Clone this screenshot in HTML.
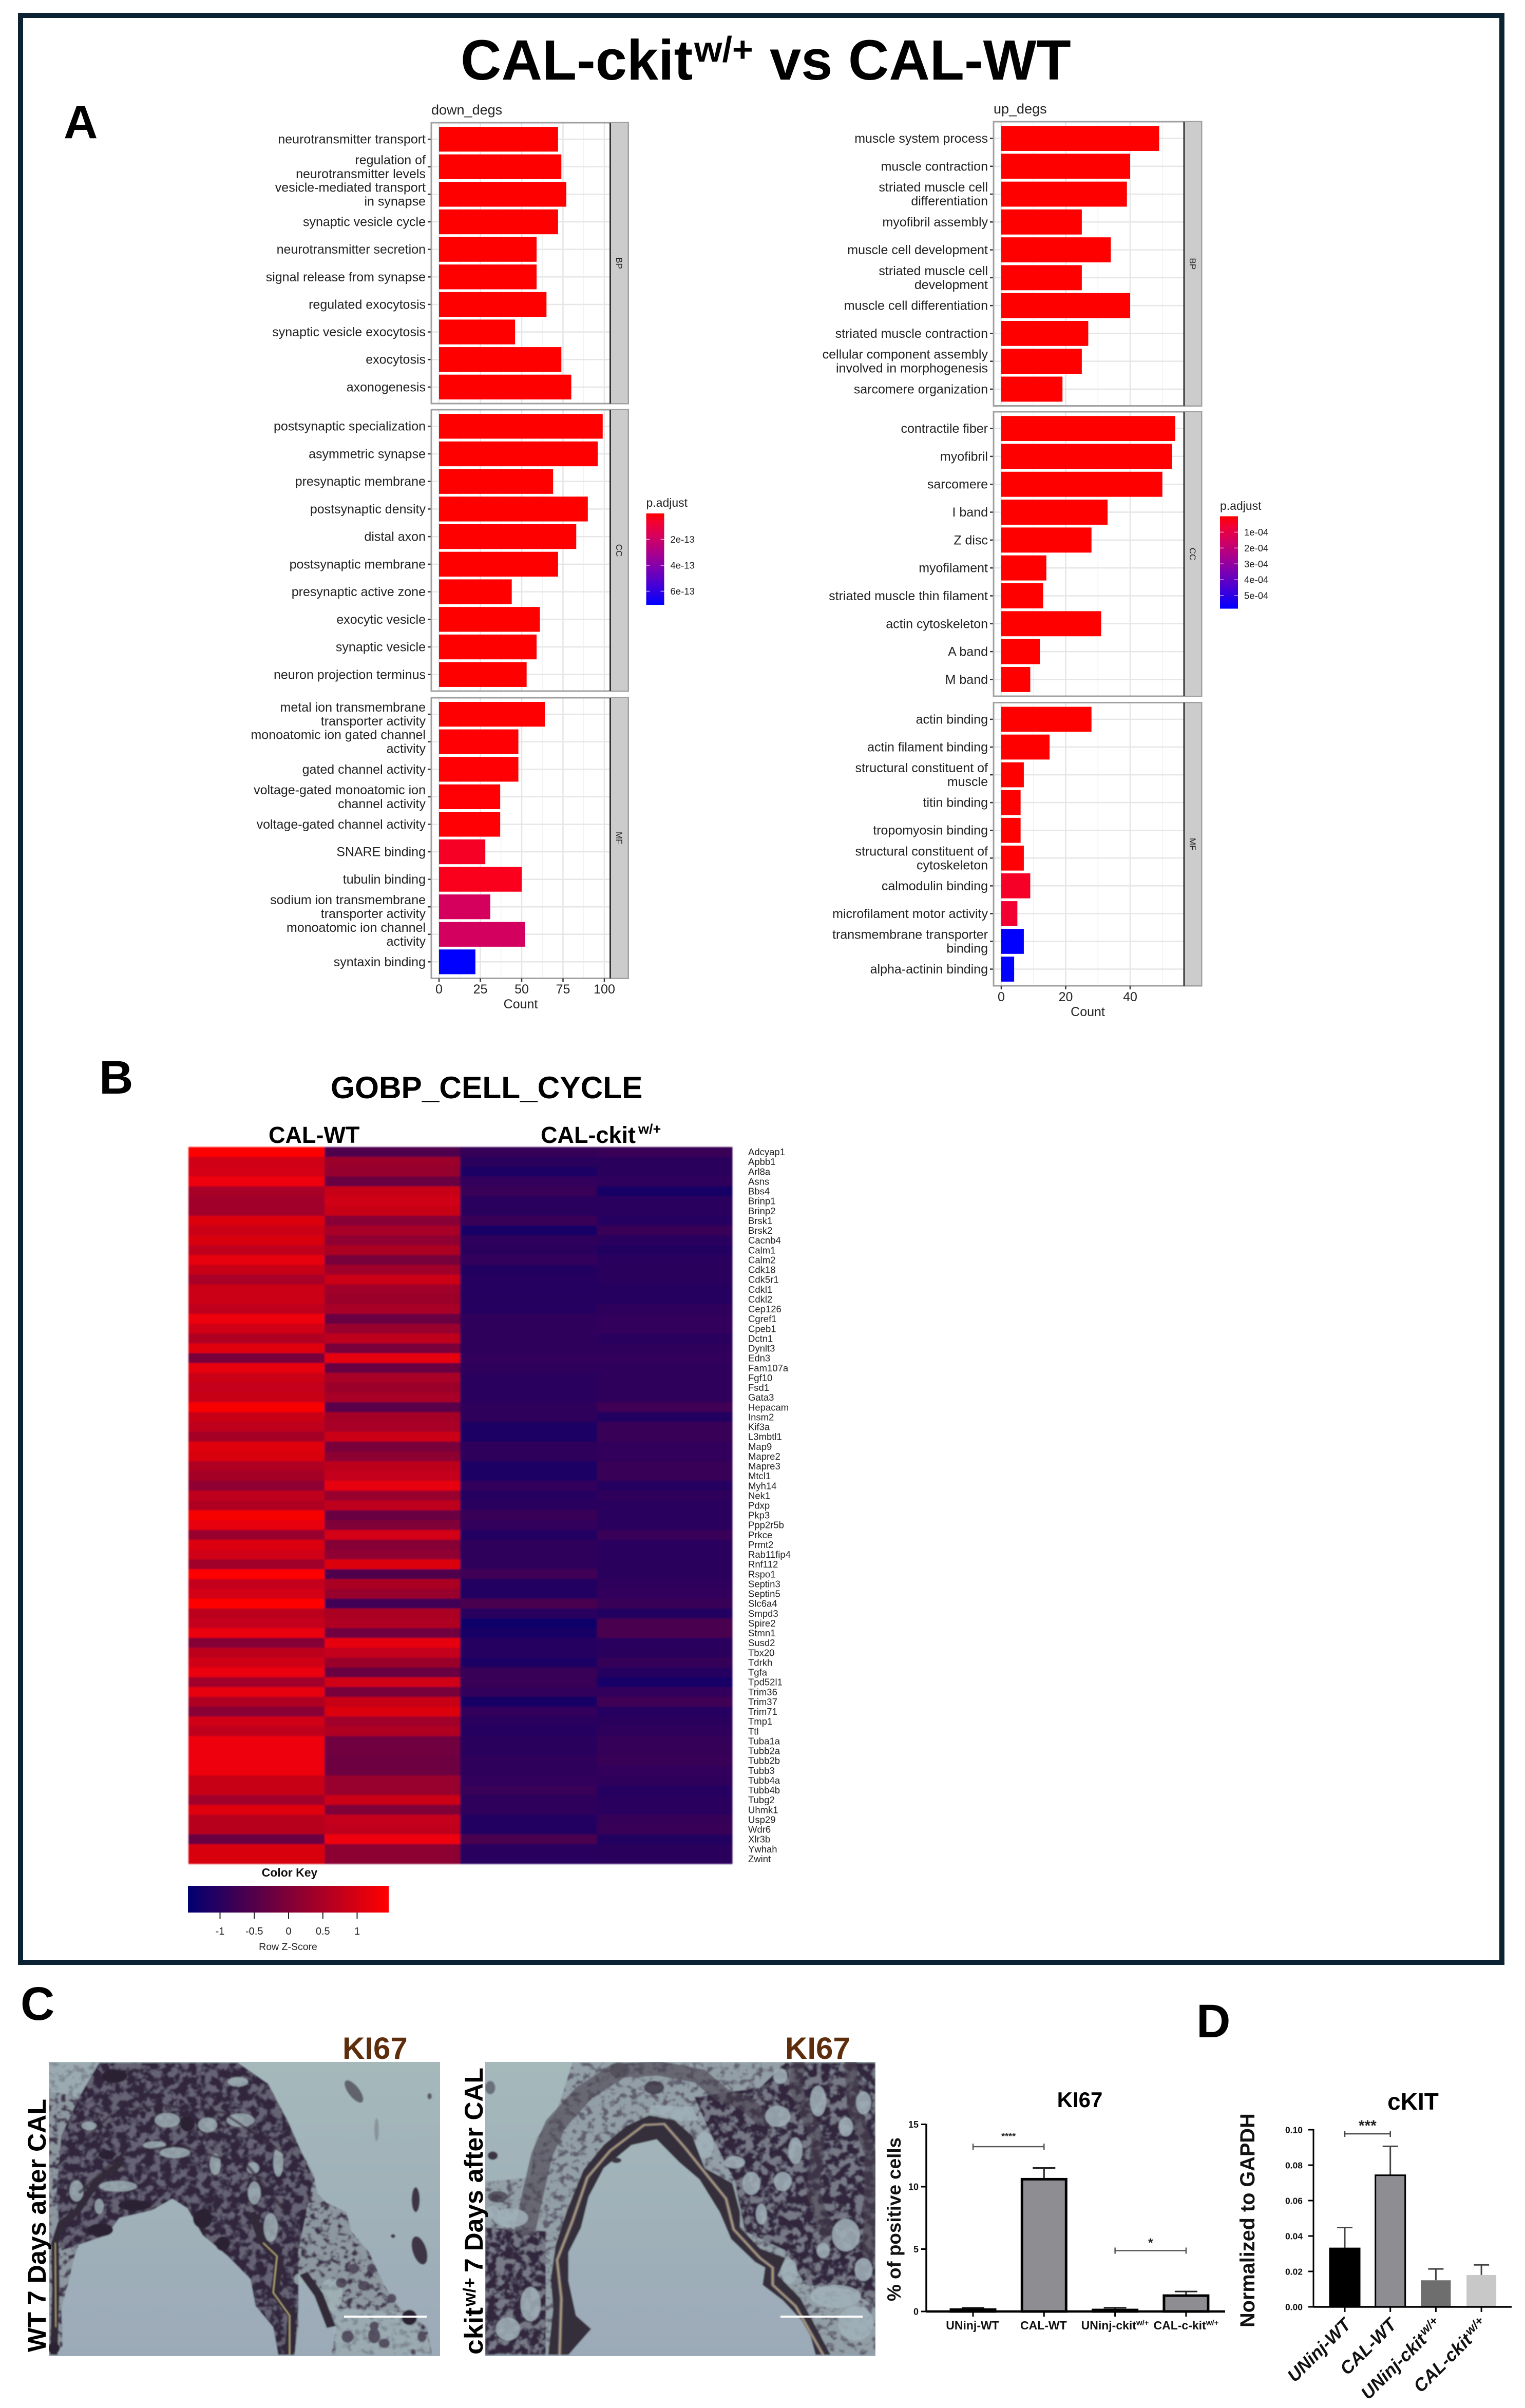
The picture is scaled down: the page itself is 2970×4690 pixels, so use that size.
<!DOCTYPE html>
<html lang="en">
<head>
<meta charset="utf-8">
<title>CAL-ckit vs CAL-WT figure</title>
<style>
html,body{margin:0;padding:0;background:#fff}
svg{display:block}
text{font-family:"Liberation Sans",sans-serif}
.b{font-weight:700}
</style>
</head>
<body>
<svg id="figure" xmlns="http://www.w3.org/2000/svg" width="2970" height="4690" viewBox="0 0 2970 4690">
<defs>
<linearGradient id="slide-bg" x1="0" y1="0" x2="0" y2="1"><stop offset="0" stop-color="#a5b9bb"/><stop offset="0.5" stop-color="#a0b1b9"/><stop offset="1" stop-color="#9caab8"/></linearGradient>
<filter id="mottle" x="0" y="0" width="100%" height="100%" color-interpolation-filters="sRGB">
<feTurbulence type="fractalNoise" baseFrequency="0.06 0.065" numOctaves="4" seed="4"/>
<feColorMatrix type="matrix" values="0 0 0 0 0.19  0 0 0 0 0.15  0 0 0 0 0.24  5.5 0 0 0 -2.1"/>
</filter>
<filter id="sparse" x="0" y="0" width="100%" height="100%" color-interpolation-filters="sRGB">
<feTurbulence type="fractalNoise" baseFrequency="0.07 0.08" numOctaves="4" seed="11"/>
<feColorMatrix type="matrix" values="0 0 0 0 0.24  0 0 0 0 0.20  0 0 0 0 0.29  5 0 0 0 -2.5"/>
</filter>
<filter id="soft" x="-2%" y="-2%" width="104%" height="104%"><feGaussianBlur stdDeviation="1.4"/></filter>
<filter id="cell-soft" x="-1%" y="-1%" width="102%" height="102%"><feGaussianBlur stdDeviation="1.2"/></filter>
<clipPath id="slide-one"><rect x="95" y="4016" width="762" height="573"/></clipPath>
<clipPath id="slide-two"><rect x="945" y="4016" width="760" height="573"/></clipPath>
<clipPath id="tissue-one"><path transform="translate(90,4010) scale(0.4912,0.3731)" d="M10 20L760 20L880 130L960 330L1010 480L1060 600L1075 700L1110 750L1190 800L1210 900L1280 1010L1340 1180L1400 1300L1510 1400L1530 1545L1130 1545L1150 1400L1090 1280L1020 1130L990 1180L1000 1400L985 1545L920 1545L900 1400L830 1290L810 1150L720 1030L620 920L560 780L500 730L420 790L290 830L240 920L130 970L110 1040L90 1160L60 1300L65 1500L15 1545Z"/></clipPath>
<clipPath id="dense-one"><path transform="translate(90,4010) scale(0.4912,0.3731)" d="M210 20L760 20L880 130L960 330L1010 480L1060 620L1000 1000L1000 1300L985 1545L920 1545L900 1400L830 1290L810 1150L720 1030L620 920L560 780L500 730L420 790L290 830L240 920L130 970L60 1000L40 700L60 400L130 200Z"/></clipPath>
<clipPath id="tissue-two"><path clip-rule="evenodd" transform="translate(940,4010) scale(0.4912,0.3731)" d="M10 20L1560 20L1560 1545L10 1545Z M10 20L355 20L320 170L290 280L210 420L190 620L10 640Z M340 1545L430 1410L370 1340L340 1160L340 1010L390 880L420 720L480 570L590 450L690 420L780 540L860 630L940 800L985 940L1080 1060L1120 1090L1110 1180L1190 1260L1290 1400L1320 1545Z"/></clipPath>
<clipPath id="dense-two"><path transform="translate(940,4010) scale(0.4912,0.3731)" d="M840 200L1100 150L1200 20L1560 20L1560 1300L1450 1200L1280 1180L1200 1000L1040 900L1000 640L900 380Z M10 880L250 900L250 1545L10 1545Z"/></clipPath>
</defs>
<rect x="0" y="0" width="2970" height="4690" fill="#fff"/>
<rect x="40" y="30" width="2885" height="3792" fill="#fff" stroke="#0b2233" stroke-width="10"/>

<g>
<text class="b" x="897" y="155" font-size="110" fill="#000">CAL-ckit</text>
<text class="b" x="1352" y="120" font-size="70" fill="#000">w/+</text>
<text class="b" x="1499" y="155" font-size="110" fill="#000">vs CAL-WT</text>
</g>
<text class="b" x="124" y="269" font-size="92">A</text>
<text class="b" x="193" y="2130" font-size="92">B</text>
<text class="b" x="40" y="3934" font-size="92">C</text>
<text class="b" x="2330" y="3968" font-size="92">D</text>

<text x="840" y="223" font-size="27" fill="#222">down_degs</text>
<text x="1935" y="221" font-size="27" fill="#222">up_degs</text>

<text class="b" x="644" y="2139" font-size="60.4" fill="#000">GOBP_CELL_CYCLE</text>
<text class="b" x="523" y="2226" font-size="45" fill="#000">CAL-WT</text>
<g>
<text class="b" x="1053" y="2226" font-size="45" fill="#000">CAL-ckit</text>
<text class="b" x="1243" y="2208" font-size="27" fill="#000">w/+</text>
</g>

<g>
<g clip-path="url(#slide-one)">
<g filter="url(#soft)">
<rect x="85" y="4006" width="782" height="593" fill="url(#slide-bg)"/>
<g clip-path="url(#tissue-one)">
<rect x="95" y="4016" width="762" height="573" fill="#8d979f"/>
<rect x="95" y="4016" width="762" height="573" filter="url(#sparse)"/>
</g>
<g clip-path="url(#dense-one)">
<rect x="95" y="4016" width="762" height="573" fill="#666474"/>
<rect x="95" y="4016" width="762" height="573" filter="url(#mottle)"/>
</g>
<g transform="translate(90,4010) scale(0.4912,0.3731)">
<path d="M10 20L210 20L130 200L10 170Z M1130 1300L1400 1320L1500 1420L1530 1545L1150 1545Z" fill="#a2b4ba" opacity="0.65"/>
<g fill="#a3b5ba" opacity="0.8">
<ellipse cx="480" cy="320" rx="50" ry="38"/><ellipse cx="640" cy="345" rx="38" ry="38"/><ellipse cx="510" cy="490" rx="60" ry="28"/><ellipse cx="770" cy="320" rx="55" ry="35"/><ellipse cx="670" cy="550" rx="22" ry="55"/><ellipse cx="285" cy="665" rx="75" ry="28"/><ellipse cx="825" cy="700" rx="25" ry="60"/><ellipse cx="890" cy="880" rx="28" ry="75"/><ellipse cx="430" cy="450" rx="45" ry="20"/><ellipse cx="760" cy="120" rx="40" ry="25"/><ellipse cx="170" cy="350" rx="30" ry="22"/><ellipse cx="120" cy="690" rx="28" ry="55"/><ellipse cx="920" cy="540" rx="20" ry="75"/><ellipse cx="1130" cy="1230" rx="45" ry="85"/><ellipse cx="1000" cy="1150" rx="18" ry="28"/><ellipse cx="820" cy="570" rx="25" ry="30"/><ellipse cx="210" cy="770" rx="18" ry="40"/>
</g>
<g fill="none" stroke="#332a38">
<path d="M960 1545L975 1340L905 1220L925 1050L860 960L815 800" stroke-width="34"/>
<path d="M30 1545L38 1200L35 960L60 860L120 800L200 640L300 540" stroke-width="30"/>
<path d="M1020 1120L1080 1230L1130 1400" stroke-width="36"/>
<path d="M40 560L250 300L450 240L700 280L950 500" stroke-width="12" opacity="0.6"/>
<path d="M130 700L300 500L520 450L800 560L950 800" stroke-width="14" opacity="0.6"/>
</g>
<g fill="none" stroke="#b8aa7a">
<path d="M965 1545L965 1340L900 1220L915 1030L860 960" stroke-width="5"/>
<path d="M38 1400L36 960" stroke-width="4"/>
</g>
<g fill="#2c2432">
<ellipse cx="215" cy="893" rx="50" ry="34"/><ellipse cx="350" cy="765" rx="65" ry="28"/><ellipse cx="620" cy="835" rx="38" ry="50"/><ellipse cx="700" cy="965" rx="28" ry="38"/><ellipse cx="270" cy="90" rx="50" ry="35"/><ellipse cx="560" cy="340" rx="28" ry="40"/><ellipse cx="240" cy="500" rx="32" ry="24"/><ellipse cx="30" cy="1510" rx="24" ry="30"/>
<ellipse cx="1440" cy="1350" rx="30" ry="40"/>
</g>
<g fill="#4a4255" opacity="0.85">
<ellipse cx="1170" cy="1170" rx="22" ry="26"/><ellipse cx="1220" cy="1095" rx="20" ry="26"/><ellipse cx="1290" cy="1095" rx="18" ry="26"/><ellipse cx="1260" cy="1185" rx="24" ry="26"/><ellipse cx="1300" cy="1445" rx="24" ry="40"/><ellipse cx="1340" cy="1485" rx="22" ry="24"/><ellipse cx="1490" cy="1450" rx="18" ry="28"/><ellipse cx="1195" cy="1450" rx="24" ry="32"/><ellipse cx="1300" cy="1395" rx="18" ry="24"/><ellipse cx="1370" cy="1250" rx="18" ry="24"/><ellipse cx="1455" cy="1530" rx="10" ry="15"/>
</g>
<g fill="#3d3545">
<ellipse cx="1220" cy="170" rx="24" ry="65" transform="rotate(-28 1220 170)" opacity="0.65"/>
<ellipse cx="1520" cy="195" rx="9" ry="16" opacity="0.7"/>
<ellipse cx="1465" cy="735" rx="16" ry="65"/>
<ellipse cx="1480" cy="1000" rx="28" ry="75" transform="rotate(-12 1480 1000)"/>
<ellipse cx="1375" cy="925" rx="9" ry="10"/>
<ellipse cx="1310" cy="370" rx="9" ry="60" opacity="0.25"/>
</g>
</g>
</g>
</g>
<rect x="670" y="4510" width="161" height="4" fill="#fff"/>
</g>

<g>
<g clip-path="url(#slide-two)">
<g filter="url(#soft)">
<rect x="935" y="4006" width="780" height="593" fill="url(#slide-bg)"/>
<g clip-path="url(#tissue-two)">
<rect x="945" y="4016" width="760" height="573" fill="#939fa6"/>
<rect x="945" y="4016" width="760" height="573" filter="url(#sparse)" opacity="0.6"/>
</g>
<g clip-path="url(#dense-two)">
<rect x="945" y="4016" width="760" height="573" fill="#777a86"/>
<rect x="945" y="4016" width="760" height="573" filter="url(#mottle)"/>
</g>
<g transform="translate(940,4010) scale(0.4912,0.3731)">
<g fill="none" stroke="#4a4250" stroke-linecap="round">
<path d="M540 60L400 180L290 340L235 500L200 700L170 880" stroke-width="85" opacity="0.6"/>
<path d="M540 60L700 50L860 90L950 190L1040 230L1110 310" stroke-width="75" opacity="0.6"/>
<path d="M1250 20L1240 150L1330 420L1310 700L1360 900" stroke-width="55" opacity="0.5"/>
<path d="M1460 20L1470 260L1540 500L1530 1050" stroke-width="50" opacity="0.6"/>
</g>
<g fill="#a2b2ba" opacity="0.85">
<path d="M670 240L830 250L855 320L780 325L700 290L660 285Z"/>
<ellipse cx="880" cy="450" rx="36" ry="70"/><ellipse cx="1000" cy="540" rx="40" ry="32"/><ellipse cx="1065" cy="650" rx="35" ry="60"/><ellipse cx="1240" cy="480" rx="28" ry="70"/><ellipse cx="1170" cy="300" rx="50" ry="55"/><ellipse cx="1180" cy="90" rx="28" ry="40"/><ellipse cx="1440" cy="920" rx="55" ry="85"/><ellipse cx="1190" cy="640" rx="35" ry="50"/><ellipse cx="1400" cy="1240" rx="100" ry="60"/><ellipse cx="1510" cy="1100" rx="35" ry="60"/><ellipse cx="1215" cy="1110" rx="32" ry="65"/><ellipse cx="1105" cy="810" rx="22" ry="55"/><ellipse cx="1330" cy="220" rx="32" ry="80"/><ellipse cx="1510" cy="230" rx="30" ry="60"/><ellipse cx="1440" cy="355" rx="28" ry="50"/><ellipse cx="1480" cy="1380" rx="70" ry="90"/><ellipse cx="1350" cy="1000" rx="26" ry="40"/><ellipse cx="100" cy="1410" rx="48" ry="60"/><ellipse cx="110" cy="830" rx="70" ry="50"/><ellipse cx="190" cy="1280" rx="40" ry="90"/><ellipse cx="40" cy="800" rx="30" ry="30"/>
</g>
<path fill-rule="evenodd" d="M260 1545L280 1300L270 1150L290 970L335 790L400 580L480 450L570 350L660 295L760 320L830 400L880 570L990 650L1020 800L1020 880L1100 990L1200 1040L1170 1130L1260 1250L1380 1545Z M340 1545L430 1410L370 1340L340 1160L340 1010L390 880L420 720L480 570L590 450L690 420L780 540L860 630L940 800L985 940L1080 1060L1120 1090L1110 1180L1190 1260L1290 1400L1320 1545Z" fill="#352d3a"/>
<path d="M305 1545L312 1250L295 1050L355 850L415 620L505 480L640 345L720 340L800 460L885 600L965 730L995 890L1100 1040L1150 1090L1150 1180L1240 1290L1350 1545" fill="none" stroke="#6b6070" stroke-width="14"/>
<path d="M305 1545L312 1250L295 1050L355 850L415 620L505 480L640 345L720 340L800 460L885 600L965 730L995 890L1100 1040L1150 1090L1150 1180L1240 1290L1350 1545" fill="none" stroke="#b5a878" stroke-width="5"/>
<g fill="#3d3545">
<ellipse cx="40" cy="505" rx="20" ry="22"/><ellipse cx="30" cy="150" rx="20" ry="35" opacity="0.55"/><ellipse cx="60" cy="720" rx="40" ry="30" opacity="0.7"/><ellipse cx="680" cy="150" rx="40" ry="35" opacity="0.8"/><ellipse cx="530" cy="530" rx="20" ry="14"/>
</g>
</g>
</g>
</g>
<rect x="1520" y="4510" width="160" height="4" fill="#fff"/>
</g>

<text class="b" x="667" y="4010" font-size="60" fill="#5e2e0c">KI67</text>
<text class="b" x="1529" y="4010" font-size="60" fill="#5e2e0c">KI67</text>
<text class="b" transform="translate(89,4581) rotate(-90)" font-size="50" textLength="493" lengthAdjust="spacingAndGlyphs">WT 7 Days after CAL</text>
<g transform="translate(940,4586) rotate(-90)">
<text class="b" x="0" y="0" font-size="50" textLength="92" lengthAdjust="spacingAndGlyphs">ckit</text>
<text class="b" x="94" y="-14" font-size="34">w/+</text>
<text class="b" x="160" y="0" font-size="50" textLength="399" lengthAdjust="spacingAndGlyphs">7 Days after CAL</text>
</g>

<g id="go-charts"></g>
<g id="heatmap"></g>
<g id="ki67-chart"></g>
<g id="ckit-chart"></g>
</svg>

<script>
const downBpTerms = ["neurotransmitter transport","regulation of\nneurotransmitter levels","vesicle-mediated transport\nin synapse","synaptic vesicle cycle","neurotransmitter secretion","signal release from synapse","regulated exocytosis","synaptic vesicle exocytosis","exocytosis","axonogenesis"];
const downBpCounts = [72,74,77,72,59,59,65,46,74,80];
const downBpP = [0,0,0,0,0,0,0,0,0,0];
const downCcTerms = ["postsynaptic specialization","asymmetric synapse","presynaptic membrane","postsynaptic density","distal axon","postsynaptic membrane","presynaptic active zone","exocytic vesicle","synaptic vesicle","neuron projection terminus"];
const downCcCounts = [99,96,69,90,83,72,44,61,59,53];
const downCcP = [0,0,0,0,0,0,0,0,0,0];
const downMfTerms = ["metal ion transmembrane\ntransporter activity","monoatomic ion gated channel\nactivity","gated channel activity","voltage-gated monoatomic ion\nchannel activity","voltage-gated channel activity","SNARE binding","tubulin binding","sodium ion transmembrane\ntransporter activity","monoatomic ion channel\nactivity","syntaxin binding"];
const downMfCounts = [64,48,48,37,37,28,50,31,52,22];
const downMfP = [0.01,0.02,0.02,0.02,0.02,0.5,0.35,1.75,1.8,7];
const downTicks = [0,25,50,75,100];
const downMinorTicks = [12.5,37.5,62.5,87.5];
const downLegendTicks = [2,4,6];
const upBpTerms = ["muscle system process","muscle contraction","striated muscle cell\ndifferentiation","myofibril assembly","muscle cell development","striated muscle cell\ndevelopment","muscle cell differentiation","striated muscle contraction","cellular component assembly\ninvolved in morphogenesis","sarcomere organization"];
const upBpCounts = [49,40,39,25,34,25,40,27,25,19];
const upBpP = [0,0,0,0,0,0,0,0,0,0];
const upCcTerms = ["contractile fiber","myofibril","sarcomere","I band","Z disc","myofilament","striated muscle thin filament","actin cytoskeleton","A band","M band"];
const upCcCounts = [54,53,50,33,28,14,13,31,12,9];
const upCcP = [0,0,0,0,0,0,0,0,0,0];
const upMfTerms = ["actin binding","actin filament binding","structural constituent of\nmuscle","titin binding","tropomyosin binding","structural constituent of\ncytoskeleton","calmodulin binding","microfilament motor activity","transmembrane transporter\nbinding","alpha-actinin binding"];
const upMfCounts = [28,15,7,6,6,7,9,5,7,4];
const upMfP = [0,0,0,0,0,0.02,0.45,0.6,5.8,5.8];
const upTicks = [0,20,40];
const upMinorTicks = [10,30,50];
const upLegendTicks = [1,2,3,4,5];

const geneNames = ["Adcyap1","Apbb1","Arl8a","Asns","Bbs4","Brinp1","Brinp2","Brsk1","Brsk2","Cacnb4","Calm1","Calm2","Cdk18","Cdk5r1","Cdkl1","Cdkl2","Cep126","Cgref1","Cpeb1","Dctn1","Dynlt3","Edn3","Fam107a","Fgf10","Fsd1","Gata3","Hepacam","Insm2","Kif3a","L3mbtl1","Map9","Mapre2","Mapre3","Mtcl1","Myh14","Nek1","Pdxp","Pkp3","Ppp2r5b","Prkce","Prmt2","Rab11fip4","Rnf112","Rspo1","Septin3","Septin5","Slc6a4","Smpd3","Spire2","Stmn1","Susd2","Tbx20","Tdrkh","Tgfa","Tpd52l1","Trim36","Trim37","Trim71","Tmp1","Ttl","Tuba1a","Tubb2a","Tubb2b","Tubb3","Tubb4a","Tubb4b","Tubg2","Uhmk1","Usp29","Wdr6","Xlr3b","Ywhah","Zwint"];
const zWtA = [1.45,.92,.96,1.28,.46,.37,.37,1.06,.87,1.01,.73,1.19,.82,.46,.87,.87,.73,1.28,.92,.55,1.1,-.09,1.19,.87,.78,.82,1.39,.82,.73,.42,1.1,1.01,.55,.42,.19,.73,.55,1.37,1.19,.28,1.05,.92,.37,1.45,.78,.96,1.45,.69,.78,1.23,.05,.69,.92,1.23,.37,1.19,.55,.1,.92,.73,1.28,1.28,1.28,1.28,.82,.82,.37,1.1,.64,.64,-.27,1.01,1.01];
const zWtB = [-.54,.3,.25,-.27,.82,.92,.82,.1,.46,.19,.51,-.09,.37,.87,.37,.32,.46,-.27,.28,.73,-.09,1.19,-.27,.46,.32,.46,-.45,.42,.46,.87,-.09,.14,.69,.78,1.19,.28,.73,-.27,0,.96,.05,.19,1.06,-.54,.51,.28,-.72,.51,.55,-.18,1.19,.78,.32,-.27,.92,-.09,.82,1.06,.37,.55,-.18,-.18,-.22,-.22,.28,.28,.87,0,.78,.73,1.28,.14,.14];
const zCkA = [-.86,-.97,-1.11,-.9,-.81,-.99,-.99,-.81,-1.18,-.95,-.97,-.9,-1.09,-1.04,-1.04,-1.02,-1.04,-.95,-.95,-.95,-.95,-.9,-.95,-.99,-.99,-.99,-.95,-.95,-1.11,-1.11,-.95,-.95,-1.11,-1.11,-.9,-1.04,-.99,-.81,-.9,-1.09,-.95,-.95,-.95,-.72,-1.09,-1.09,-.63,-.99,-1.27,-1.18,-1.04,-1.04,-1.11,-.81,-.81,-.9,-1.18,-.9,-.99,-1.04,-.97,-.97,-.95,-.93,-.9,-.81,-.95,-.95,-1.09,-1.09,-.63,-.99,-.99];
const zCkB = [-.81,-.97,-.97,-.95,-1.18,-.99,-.99,-1.04,-.81,-.99,-1.06,-.99,-.97,-.99,-1.02,-1.02,-.93,-.9,-.9,-.99,-.95,-.9,-.95,-.95,-.95,-.95,-.72,-1.06,-.81,-.81,-.9,-.9,-.81,-.81,-1.04,-.93,-.99,-.99,-.99,-.81,-.99,-.99,-.97,-.97,-.95,-.9,-.81,-1.09,-.63,-.63,-.99,-.97,-.86,-1.04,-1.22,-.9,-.72,-1.04,-.97,-.95,-.86,-.86,-.81,-.9,-.95,-1.04,-.99,-.99,-.86,-.81,-1.06,-.97,-.97];
const keyTicks = [-1,-0.5,0,0.5,1];
const keyLabels = ["-1","-0.5","0","0.5","1"];

const ki67Groups = ["UNinj-WT","CAL-WT","UNinj-ckit","CAL-c-kit"];
const ki67Sups = ["","","w/+","w/+"];
const ki67Means = [0.15,10.6,0.12,1.27];
const ki67Upper = [0.3,11.5,0.3,1.6];
const ki67Ticks = [0,5,10,15];
const ckitGroups = ["UNinj-WT","CAL-WT","UNinj-ckit","CAL-ckit"];
const ckitSups = ["","","w/+","w/+"];
const ckitMeans = [0.033,0.0743,0.015,0.018];
const ckitUpper = [0.0448,0.0906,0.0214,0.0237];
const ckitTicks = [0,0.02,0.04,0.06,0.08,0.1];
const ckitTickLabels = ["0.00","0.02","0.04","0.06","0.08","0.10"];

const NS = "http://www.w3.org/2000/svg";
function add(parent, tag, attrs, txt) {
  const el = document.createElementNS(NS, tag);
  for (const k in attrs) el.setAttribute(k, attrs[k]);
  if (txt !== undefined) el.textContent = txt;
  parent.appendChild(el);
  return el;
}
function adjustColor(t) {
  t = Math.max(0, Math.min(1, t));
  const r = Math.round(255 * (1 - Math.pow(t, 1.3)));
  const b = Math.round(255 * Math.pow(t, 0.72));
  return "rgb(" + r + ",0," + b + ")";
}
function drawGoPanel(root, terms, counts, pvals, g) {
  const panel = add(root, "g", {});
  
  
  const xs = v => g.x0 + v * g.pxPerCount;
  const unit = (g.bottom - g.top) / 10.2;
  const ys = i => g.top + (i + 0.6) * unit;
  g.minor.forEach(v => {
    const line = add(panel, "line", {x1: xs(v), x2: xs(v), y1: g.top, y2: g.bottom, stroke: "#f2f2f2", "stroke-width": 1.5});
    
    
  });
  g.ticks.forEach(v => {
    const line = add(panel, "line", {x1: xs(v), x2: xs(v), y1: g.top, y2: g.bottom, stroke: "#e6e6e6", "stroke-width": 2.5});
    
    
  });
  terms.forEach((term, i) => {
    const gl = add(panel, "line", {x1: g.left, x2: g.stripL, y1: ys(i), y2: ys(i), stroke: "#e6e6e6", "stroke-width": 2.5});
    
    
    const bar = add(panel, "rect", {x: xs(0), y: ys(i) - unit * 0.45, width: counts[i] * g.pxPerCount, height: unit * 0.9, fill: adjustColor(pvals[i] / g.pMax)});
    
    
    const tick = add(panel, "line", {x1: g.left - 7, x2: g.left, y1: ys(i), y2: ys(i), stroke: "#333", "stroke-width": 2.5});
    
    
    const lines = term.split("\n");
    lines.forEach((ln, j) => {
      const offset = (j - (lines.length - 1) / 2) * 27;
      const label = add(panel, "text", {x: g.left - 11, y: ys(i) + offset + 8.5, "text-anchor": "end", "font-size": 25, fill: "#222"}, ln);
      
      
    });
  });
  const frame = add(panel, "rect", {x: g.left, y: g.top, width: g.stripR - g.left, height: g.bottom - g.top, fill: "none", stroke: "#a0a0a0", "stroke-width": 3});
  
  
  const strip = add(panel, "rect", {x: g.stripL, y: g.top, width: g.stripR - g.stripL, height: g.bottom - g.top, fill: "#cccccc", stroke: "#a0a0a0", "stroke-width": 2});
  
  
  const edge = add(panel, "line", {x1: g.stripL, x2: g.stripL, y1: g.top, y2: g.bottom, stroke: "#333", "stroke-width": 3});
  
  
  const cx = (g.stripL + g.stripR) / 2, cy = (g.top + g.bottom) / 2;
  const st = add(panel, "text", {transform: "translate(" + cx + "," + cy + ") rotate(90)", "text-anchor": "middle", y: 6, "font-size": 17, fill: "#222"}, g.strip);
  
  
  if (g.axisY) {
    g.ticks.forEach(v => {
      const t = add(panel, "line", {x1: xs(v), x2: xs(v), y1: g.bottom, y2: g.bottom + 7, stroke: "#333", "stroke-width": 2.5});
      
      
      const lab = add(panel, "text", {x: xs(v), y: g.axisY, "text-anchor": "middle", "font-size": 25, fill: "#222"}, String(v));
      
      
    });
    const title = add(panel, "text", {x: g.countX, y: g.axisY + 29, "text-anchor": "middle", "font-size": 25, fill: "#222"}, "Count");
    
    
  }
}
function drawLegend(root, l, gradId) {
  const lg = add(root, "g", {});
  
  
  const defs = add(lg, "defs", {});
  const grad = add(defs, "linearGradient", {id: gradId, x1: 0, y1: 0, x2: 0, y2: 1});
  for (let i = 0; i <= 10; i++) add(grad, "stop", {offset: i / 10, "stop-color": adjustColor(i / 10)});
  const title = add(lg, "text", {x: l.x, y: l.titleY, "font-size": 23, fill: "#222"}, "p.adjust");
  
  
  const bar = add(lg, "rect", {x: l.x, y: l.top, width: 35, height: l.bottom - l.top, fill: "url(#" + gradId + ")"});
  
  
  l.ticks.forEach(v => {
    const y = l.top + (v / l.pMax) * (l.bottom - l.top);
    const tk1 = add(lg, "line", {x1: l.x, x2: l.x + 7, y1: y, y2: y, stroke: "#fff", "stroke-width": 1.5, opacity: 0.7});
    
    
    const tk2 = add(lg, "line", {x1: l.x + 28, x2: l.x + 35, y1: y, y2: y, stroke: "#fff", "stroke-width": 1.5, opacity: 0.7});
    
    
    const lab = add(lg, "text", {x: l.x + 47, y: y + 6.5, "font-size": 18.5, fill: "#222"}, v + l.suffix);
    
    
  });
}
const goRoot = document.getElementById("go-charts");
const downGeom = {left: 840, stripL: 1188.5, stripR: 1223.5, x0: 855, pxPerCount: 3.22, ticks: downTicks, minor: downMinorTicks, pMax: 7, countX: 1014};
drawGoPanel(goRoot, downBpTerms, downBpCounts, downBpP, Object.assign({}, downGeom, {name: "down-bp-panel", top: 239, bottom: 786, strip: "BP"}));
drawGoPanel(goRoot, downCcTerms, downCcCounts, downCcP, Object.assign({}, downGeom, {name: "down-cc-panel", top: 798, bottom: 1346, strip: "CC"}));
drawGoPanel(goRoot, downMfTerms, downMfCounts, downMfP, Object.assign({}, downGeom, {name: "down-mf-panel", top: 1359, bottom: 1905.5, strip: "MF", axisY: 1935}));
const upGeom = {left: 1935, stripL: 2306, stripR: 2340, x0: 1950, pxPerCount: 6.275, ticks: upTicks, minor: upMinorTicks, pMax: 5.82, countX: 2118.5};
drawGoPanel(goRoot, upBpTerms, upBpCounts, upBpP, Object.assign({}, upGeom, {name: "up-bp-panel", top: 237, bottom: 790.5, strip: "BP"}));
drawGoPanel(goRoot, upCcTerms, upCcCounts, upCcP, Object.assign({}, upGeom, {name: "up-cc-panel", top: 802, bottom: 1356, strip: "CC"}));
drawGoPanel(goRoot, upMfTerms, upMfCounts, upMfP, Object.assign({}, upGeom, {name: "up-mf-panel", top: 1368.5, bottom: 1920, strip: "MF", axisY: 1950}));
drawLegend(goRoot, {name: "down-padjust-legend", x: 1258.5, titleY: 987, top: 1000, bottom: 1178, pMax: 7.05, ticks: downLegendTicks, suffix: "e-13"}, "down-gradient");
drawLegend(goRoot, {name: "up-padjust-legend", x: 2376, titleY: 993, top: 1005.5, bottom: 1185.5, pMax: 5.82, ticks: upLegendTicks, suffix: "e-04"}, "up-gradient");

function zColor(z) {
  const t = Math.max(0, Math.min(1, (z + 1.46) / 2.92));
  return "rgb(" + Math.round(255 * t) + ",0," + Math.round(112 * (1 - t)) + ")";
}
(function drawHeatmap() {
  const root = document.getElementById("heatmap");
  const colX = [367, 632, 896, 1162.5, 1426];
  const top = 2234, rowH = 1396 / geneNames.length;
  const columns = [zWtA, zWtB, zCkA, zCkB];
  const cells = add(root, "g", {filter: "url(#cell-soft)"});
  
  
  columns.forEach((col, c) => {
    col.forEach((z, r) => {
      const cell = add(cells, "rect", {x: colX[c], y: top + r * rowH, width: colX[c + 1] - colX[c] + 0.5, height: rowH + 0.5, fill: zColor(z)});
      
      
    });
  });
  geneNames.forEach((name, r) => {
    const label = add(root, "text", {x: 1457, y: top + (r + 0.5) * rowH + 6.5, "font-size": 18.5, fill: "#222"}, name);
    
    
  });
  const keyX = z => 562 + z * 133.5;
  const defs = add(root, "defs", {});
  const grad = add(defs, "linearGradient", {id: "key-gradient", x1: 0, y1: 0, x2: 1, y2: 0});
  for (let i = 0; i <= 10; i++) add(grad, "stop", {offset: i / 10, "stop-color": zColor(-1.46 + 2.92 * i / 10)});
  const keyTitle = add(root, "text", {x: 564, y: 3655, "text-anchor": "middle", "font-size": 23, "font-weight": 700, fill: "#111"}, "Color Key");
  
  
  const keyBar = add(root, "rect", {x: 366, y: 3673, width: 391, height: 52, fill: "url(#key-gradient)"});
  
  
  keyTicks.forEach((z, i) => {
    const t = add(root, "line", {x1: keyX(z), x2: keyX(z), y1: 3725, y2: 3737, stroke: "#222", "stroke-width": 2});
    
    
    const l = add(root, "text", {x: keyX(z), y: 3768, "text-anchor": "middle", "font-size": 20, fill: "#222"}, keyLabels[i]);
    
    
  });
  const zt = add(root, "text", {x: 561, y: 3798, "text-anchor": "middle", "font-size": 19.5, fill: "#222"}, "Row Z-Score");
  
  
})();

function drawBracket(root, x1, x2, y, stars, starY, size, color) {
  const br = add(root, "path", {d: "M" + x1 + " " + (y - 6) + "V" + (y + 6) + "M" + x1 + " " + y + "H" + x2 + "M" + x2 + " " + (y - 6) + "V" + (y + 6), fill: "none", stroke: color, "stroke-width": 2.5});
  
  
  const st = add(root, "text", {x: (x1 + x2) / 2, y: starY, "text-anchor": "middle", "font-size": size, "font-weight": 700, fill: "#222"}, stars);
  
  
}
(function drawKi67() {
  const root = document.getElementById("ki67-chart");
  const ys = v => 4502 - v * 24.3;
  const xs = i => 1895 + i * 138.3;
  const title = add(root, "text", {x: 2103, y: 4104, "text-anchor": "middle", "font-size": 42, "font-weight": 700}, "KI67");
  
  
  const yt = add(root, "text", {transform: "translate(1754,4482) rotate(-90)", "font-size": 36.8, "font-weight": 700, fill: "#111"}, "% of positive cells");
  
  
  ki67Means.forEach((m, i) => {
    const err = add(root, "path", {d: "M" + xs(i) + " " + ys(m) + "V" + ys(ki67Upper[i]) + "M" + (xs(i) - 22) + " " + ys(ki67Upper[i]) + "H" + (xs(i) + 22), fill: "none", stroke: "#222", "stroke-width": 3});
    
    
    const bar = add(root, "rect", {x: xs(i) - 43, y: ys(m), width: 86, height: ys(0) - ys(m), fill: "#8e8e92", stroke: "#000", "stroke-width": 5});
    
    
    const t = add(root, "line", {x1: xs(i), x2: xs(i), y1: ys(0), y2: ys(0) + 10, stroke: "#000", "stroke-width": 3});
    
    
    const l = add(root, "text", {x: xs(i) + (ki67Sups[i] ? 0 : -1), y: 4537, "text-anchor": "middle", "font-size": 23, "font-weight": 700, fill: "#111"});
    
    
    l.appendChild(document.createTextNode(ki67Groups[i]));
    if (ki67Sups[i]) {
      const sup = add(l, "tspan", {dy: -8, "font-size": 15}, ki67Sups[i]);
      
      
    }
  });
  ki67Ticks.forEach(v => {
    const t = add(root, "line", {x1: 1794, x2: 1804, y1: ys(v), y2: ys(v), stroke: "#000", "stroke-width": 3});
    
    
    const l = add(root, "text", {x: 1789, y: ys(v) + 6.5, "text-anchor": "end", "font-size": 18, "font-weight": 700, fill: "#111"}, String(v));
    
    
  });
  const ya = add(root, "line", {x1: 1804, x2: 1804, y1: ys(15) - 1, y2: ys(0), stroke: "#000", "stroke-width": 3.5});
  
  
  const xa = add(root, "line", {x1: 1804, x2: 2386, y1: ys(0), y2: ys(0), stroke: "#000", "stroke-width": 4.5});
  
  
  drawBracket(root, xs(0), xs(1), 4181, "****", 4167, 18, "#555");
  drawBracket(root, xs(2), xs(3), 4383.5, "*", 4376, 24, "#555");
})();
(function drawCkit() {
  const root = document.getElementById("ckit-chart");
  const ys = v => 4493 - v * 3450;
  const xs = i => 2619 + i * 88.7;
  const fills = ["#000", "#8e8e92", "#6e6e6e", "#c8c8c8"];
  const strokes = ["#000", "#000", "none", "none"];
  const title = add(root, "text", {x: 2752, y: 4109, "text-anchor": "middle", "font-size": 46, "font-weight": 700}, "cKIT");
  
  
  const yt = add(root, "text", {transform: "translate(2443,4533) rotate(-90)", "font-size": 39.7, "font-weight": 700, fill: "#111"}, "Normalized to GAPDH");
  
  
  ckitMeans.forEach((m, i) => {
    const err = add(root, "path", {d: "M" + xs(i) + " " + ys(m) + "V" + ys(ckitUpper[i]) + "M" + (xs(i) - 15) + " " + ys(ckitUpper[i]) + "H" + (xs(i) + 15), fill: "none", stroke: "#444", "stroke-width": 3});
    
    
    const bar = add(root, "rect", {x: xs(i) - 29, y: ys(m), width: 58, height: ys(0) - ys(m), fill: fills[i], stroke: strokes[i], "stroke-width": 3});
    
    
    const t = add(root, "line", {x1: xs(i), x2: xs(i), y1: ys(0), y2: ys(0) + 10, stroke: "#000", "stroke-width": 3});
    
    
    const l = add(root, "text", {transform: "translate(" + (xs(i) + 14) + ",4530) rotate(-45)", "text-anchor": "end", "font-size": 35, "font-weight": 700, "font-style": "italic", fill: "#111"});
    
    
    l.appendChild(document.createTextNode(ckitGroups[i]));
    if (ckitSups[i]) {
      const sup = add(l, "tspan", {dx: 3, dy: -12, "font-size": 24}, ckitSups[i]);
      
      
    }
  });
  ckitTicks.forEach((v, i) => {
    const t = add(root, "line", {x1: 2548, x2: 2558, y1: ys(v), y2: ys(v), stroke: "#000", "stroke-width": 3});
    
    
    const l = add(root, "text", {x: 2537, y: ys(v) + 6.5, "text-anchor": "end", "font-size": 17.5, "font-weight": 700, fill: "#111"}, ckitTickLabels[i]);
    
    
  });
  const ya = add(root, "line", {x1: 2558, x2: 2558, y1: ys(0.1) - 1, y2: ys(0), stroke: "#000", "stroke-width": 3});
  
  
  const xa = add(root, "line", {x1: 2558, x2: 2944, y1: ys(0), y2: ys(0), stroke: "#000", "stroke-width": 3.5});
  
  
  drawBracket(root, xs(0), xs(1), 4156, "***", 4150, 30, "#444");
})();
</script>
</body>
</html>
